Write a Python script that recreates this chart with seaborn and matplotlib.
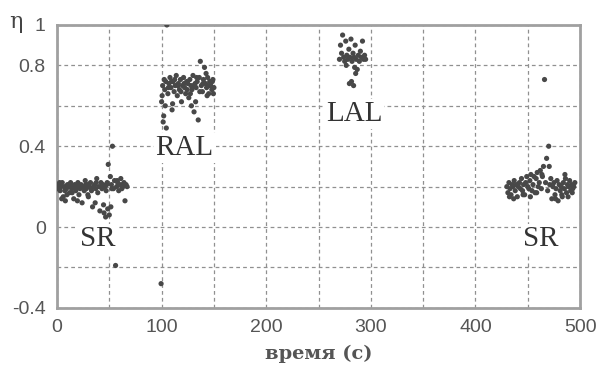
import matplotlib
matplotlib.use("Agg")
import matplotlib.pyplot as plt
import seaborn as sns
import pandas as pd

# ---- data ----
sr1_t = [0, 1, 2, 3, 4, 5, 6, 7, 8, 9, 10, 11, 12, 13, 14, 15, 16, 17, 18, 19, 20,
         21, 22, 23, 24, 25, 26, 27, 28, 29, 30, 31, 32, 33, 34, 35, 36, 37, 38, 39, 40,
         41, 42, 43, 44, 45, 46, 47, 48, 49, 50, 51, 52, 53, 54, 55, 56, 57, 58, 59, 60,
         61, 62, 63, 64, 65, 66, 67,
         2.5, 7.5, 12.5, 17.5, 22.5, 27.5, 32.5, 37.5, 42.5, 47.5, 52.5, 57.5, 62.5,
         4.5, 9.5, 14.5, 19.5, 29.5, 36.5, 44.5, 48.5, 51.5, 46.5]
sr1_eta = [.20, .19, .21, .18, .20, .22, .15, .20, .13, .19, .21, .20, .17, .22, .19, .20, .14, .21, .18, .20, .22,
           .16, .19, .21, .12, .20, .18, .23, .19, .21, .15, .20, .22, .18, .10, .20, .21, .19, .24, .17, .20,
           .08, .22, .19, .21, .07, .20, .18, .22, .31, .06, .25, .21, .40, .19, .23, -.19, .20, .22, .18, .21,
           .24, .19, .20, .22, .13, .21, .20,
           .22, .18, .21, .19, .20, .21, .19, .22, .20, .21, .19, .23, .21,
           .14, .16, .17, .13, .16, .12, .11, .09, .10, .05]

ral_t = [100, 101, 102, 103, 104, 105, 106, 107, 108, 109, 110, 111, 112, 113, 114, 115, 116, 117, 118, 119,
         120, 121, 122, 123, 124, 125, 126, 127, 128, 129, 130, 131, 132, 133, 134, 135, 136, 137, 138, 139,
         140, 141, 142, 143, 144, 145, 146, 147, 148, 149, 150,
         100.5, 101.5, 102.5, 103.5, 106.5, 109.5, 112.5, 115.5, 118.5, 121.5, 124.5, 127.5, 130.5, 133.5,
         136.5, 139.5, 142.5, 145.5, 148.5, 104.5, 110.5, 128.5, 132.5, 143.5, 149.5, 99.5]
ral_eta = [.62, .70, .55, .68, .72, 1.0, .66, .71, .74, .69, .58, .72, .67, .70, .75, .65, .71, .68, .73, .62,
           .70, .74, .69, .66, .72, .71, .64, .73, .70, .68, .75, .57, .71, .69, .72, .53, .74, .82, .70, .67,
           .73, .79, .71, .69, .74, .66, .72, .70, .68, .73, .69,
           .65, .52, .73, .60, .69, .72, .73, .70, .67, .71, .68, .66, .70, .74,
           .67, .71, .76, .70, .72, .49, .61, .60, .62, .65, .66, -.28]

lal_t = [270, 271, 272, 273, 274, 275, 276, 277, 278, 279, 280, 281, 282, 283, 284, 285, 286, 287, 288,
         289, 290, 291, 292, 293, 294, 295, 279.5, 281.5, 283.5, 285.5, 276.5, 284.5]
lal_eta = [.83, .90, .86, .95, .84, .82, .92, .85, .83, .88, .84, .93, .82, .86, .84, .90, .83, .78, .85,
           .82, .87, .84, .92, .83, .85, .83, .71, .72, .70, .76, .80, .79]

sr2_t = [430, 431, 432, 433, 434, 435, 436, 437, 438, 439, 440, 441, 442, 443, 444, 445, 446, 447, 448, 449,
         450, 451, 452, 453, 454, 455, 456, 457, 458, 459, 460, 461, 462, 463, 464, 465, 466, 467, 468, 469,
         470, 471, 472, 473, 474, 475, 476, 477, 478, 479, 480, 481, 482, 483, 484, 485, 486, 487, 488, 489,
         490, 491, 492, 493, 494, 495,
         432.5, 436.5, 445.5, 452.5, 458.5, 463.5, 470.5, 476.5, 482.5, 488.5, 492.5, 485.5]
sr2_eta = [.20, .17, .22, .19, .16, .21, .20, .23, .18, .21, .15, .20, .22, .19, .24, .18, .21, .16, .22, .25,
           .20, .19, .23, .26, .18, .21, .25, .17, .24, .27, .20, .22, .28, .19, .25, .30, .73, .22, .34, .18,
           .40, .21, .24, .14, .20, .22, .16, .19, .23, .13, .21, .18, .20, .15, .22, .19, .24, .17, .21, .20,
           .23, .18, .21, .19, .20, .22,
           .15, .14, .16, .15, .17, .26, .30, .14, .16, .15, .17, .26]

labels = ["SR", "RAL", "LAL", "SR"]
label_t = [39, 122, 284, 462]
label_eta = [-0.06, 0.39, 0.56, -0.06]

x_ticks = [0, 100, 200, 300, 400, 500]
y_ticks = [-0.4, -0.2, 0, 0.2, 0.4, 0.6, 0.8, 1.0]
y_ticklabels = ["-0.4", "", "0", "", "0.4", "", "0.8", "1"]

df = pd.DataFrame({
    "t": sr1_t + ral_t + lal_t + sr2_t,
    "eta": sr1_eta + ral_eta + lal_eta + sr2_eta,
})

sns.set_theme(style="white")
plt.rcParams['font.family'] = ['Liberation Sans', 'DejaVu Sans']

fig = plt.figure(figsize=(6.03, 3.67), dpi=100)
ax = fig.add_axes([0.0945, 0.161, 0.8675, 0.771])

sns.scatterplot(data=df, x="t", y="eta", ax=ax, color="#484848", s=14,
                edgecolor="none", linewidth=0, zorder=3)

ax.set_xlim(0, 500)
ax.set_ylim(-0.4, 1.0)
ax.set_xticks(x_ticks)
ax.set_xticks([50, 150, 250, 350, 450], minor=True)
ax.set_yticks(y_ticks)
ax.set_yticklabels(y_ticklabels)
ax.grid(True, which="both", linestyle=(0, (3, 2.5)), color="#909090", linewidth=0.9)
ax.tick_params(which="both", direction="in", length=3, width=0.8, color="#888888",
               labelsize=14, labelcolor="#555555", pad=8)
for sp in ax.spines.values():
    sp.set_color("#a0a0a0")
    sp.set_linewidth(2)

for lab, tx, ty in zip(labels, label_t, label_eta):
    ax.text(tx, ty, lab, ha="center", va="center", fontsize=21,
            family="Liberation Serif", color="#333333", zorder=4,
            bbox=dict(facecolor="white", edgecolor="none", pad=1.5))

ax.set_xlabel("время (с)", fontsize=14, fontweight="bold", family="DejaVu Serif",
              color="#555555", labelpad=6)
ax.set_ylabel("")
fig.text(0.027, 0.94, "η", fontsize=16, family="DejaVu Serif", color="#444444",
         ha="center", va="center")

fig.savefig("out.png", dpi=100)
